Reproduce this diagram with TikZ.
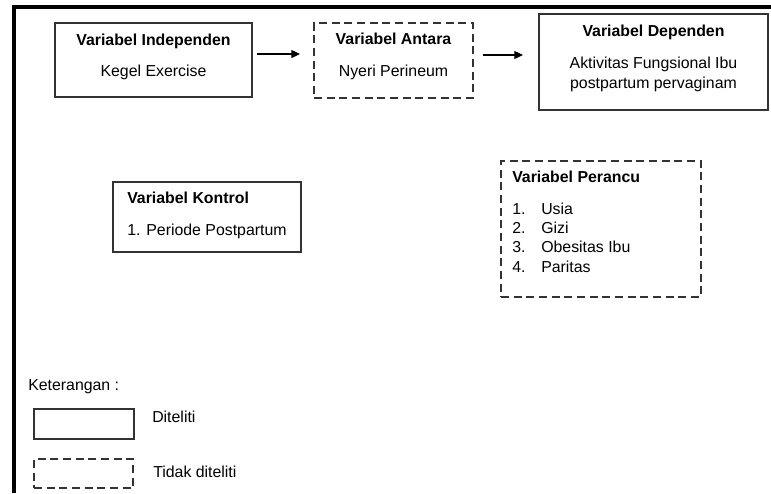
\documentclass[tikz,border=0pt]{standalone}
\usepackage{fontspec}
\setmainfont{Liberation Sans}
\usetikzlibrary{arrows.meta}
\begin{document}
\begin{tikzpicture}[x=0.75pt,y=-0.75pt,
  box/.style={draw=black!80, line width=0.9pt, inner sep=0pt, fill=none},
  dbox/.style={box, dash pattern=on 6pt off 3.5pt},
  txt/.style={inner sep=0pt, font=\fontsize{11.9}{14}\selectfont, anchor=base},
  ttl/.style={txt, font=\fontsize{11.9}{14}\selectfont\bfseries},
  arr/.style={line width=0.9pt, -{Triangle[length=6.5pt,width=6pt]}},
  frame/.style={line width=3pt, black}
]
\useasboundingbox (0,0) rectangle (771,493);
% outer frame (left and top)
\coordinate (fTL) at (14,7);
\coordinate (fTR) at (771,7);
\coordinate (fBL) at (14,493);
\draw[frame] (fBL) -- ([yshift=1.5pt]fTL) ;
\draw[frame] ([xshift=-1.5pt]fTL) -- (fTR);

% boxes
\node[box, minimum width=147.75pt, minimum height=55.5pt] (indep) at (153.5,60) {};
\node[dbox, minimum width=119.25pt, minimum height=56.25pt] (antara) at (393.5,60.5) {};
\node[box, minimum width=171.75pt, minimum height=72pt] (dep) at (653.5,62) {};
\node[box, minimum width=141pt, minimum height=52.5pt] (kontrol) at (207,217) {};
\node[dbox, minimum width=150pt, minimum height=102pt] (perancu) at (601,229) {};

% texts
\node[ttl] (indepT) at (153.5,45) {Variabel Independen};
\node[txt] (indepX) at (153.5,76) {Kegel Exercise};
\node[ttl] (antaraT) at (393.5,44) {Variabel Antara};
\node[txt] (antaraX) at (393.5,76) {Nyeri Perineum};
\node[ttl] (depT) at (653.5,36) {Variabel Dependen};
\node[txt] (depX1) at (653.5,68) {Aktivitas Fungsional Ibu};
\node[txt] (depX2) at (653.5,88) {postpartum pervaginam};
\node[ttl, anchor=base west] (kontrolT) at (127,203) {Variabel Kontrol};
\node[txt, anchor=base west] (kontrolX) at (127,235) {1. Periode Postpartum};
\node[ttl, anchor=base west] (perancuT) at (512,182) {Variabel Perancu};
\node[txt, anchor=base west] (pn1) at (512,214) {1.};
\node[txt, anchor=base west] (pt1) at (541,214) {Usia};
\node[txt, anchor=base west] (pn2) at (512,233.3) {2.};
\node[txt, anchor=base west] (pt2) at (541,233.3) {Gizi};
\node[txt, anchor=base west] (pn3) at (512,252.6) {3.};
\node[txt, anchor=base west] (pt3) at (541,252.6) {Obesitas Ibu};
\node[txt, anchor=base west] (pn4) at (512,272) {4.};
\node[txt, anchor=base west] (pt4) at (541,272) {Paritas};

% arrows
\coordinate (a1s) at (257,54);
\coordinate (a1e) at (300,54);
\coordinate (a2s) at (483,55);
\coordinate (a2e) at (523,55);
\draw[arr] (a1s) -- (a1e);
\draw[arr] (a2s) -- (a2e);

% legend
\node[txt, anchor=base west] (ket) at (28,390) {Keterangan :};
\node[box, minimum width=75pt, minimum height=22.5pt] (legS) at (84,424) {};
\node[txt, anchor=base west] (legST) at (152,422) {Diteliti};
\node[dbox, minimum width=74.25pt, minimum height=21.75pt] (legD) at (83.5,473.5) {};
\node[txt, anchor=base west] (legDT) at (153,477) {Tidak diteliti};
\end{tikzpicture}
\end{document}
